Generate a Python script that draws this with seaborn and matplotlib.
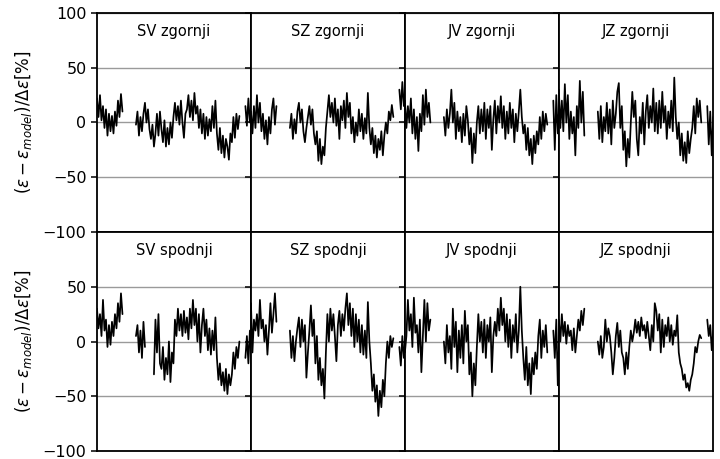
import numpy as np
import pandas as pd
import matplotlib
matplotlib.use("Agg")
import matplotlib.pyplot as plt
import seaborn as sns

# Each panel is three measured stretches (a, b, c) on a common time index.
# None marks a missing stretch inside a run.
SEG_START = [0, 26, 99]
T_END = 102.7

names_top = ["SV zgornji", "SZ zgornji", "JV zgornji", "JZ zgornji"]
names_bottom = ["SV spodnji", "SZ spodnji", "JV spodnji", "JZ spodnji"]

# --- upper sensors ---
sv_zg_a = [22, 5, 25, 2, 15, -5, 12, -12, 8, -8, 6, -10, 10, -3, 20, 5, 26, 10]
sv_zg_b = [-2, 10, -12, 5, -8, 8, 18, 0, 12, -6, -15, -2, -22, -10, 8, -12, 10, -6,
           -18, 2, -22, -5, -20, 0, -14, 5, 18, 2, 15, -2, 20, 0, -14, 8,
           12, 25, 5, 20, 2, 27, 8, 15, -5, 12, -10, 8, -15, 5, -12, 3,
           -8, 15, -5, 20, -10, -25, -5, -28, -12, -32, -15, -22, -34, -10,
           -18, 5, -14, 8, -6, 6]
sv_zg_c = [15, -3, 22, 0, 10]

sz_zg_a = [10, -10, 15, -5, 25, 0, 18, -8, 8, -15, 2, -20, 5, -10, 12, 22, -2, 15]
sz_zg_b = [-5, 8, -15, 3, -10, 10, 18, 0, 12, -8, -18, -5, 5, 15, -2, 12, -10,
           -20, -8, -35, -15, -38, -22, -30, -5, 10, 25, 5, 18, 0, 22, -3, 12,
           -15, 15, 2, 20, -5, 27, 5, 18, -10, 5, -18, 0, -12, 12, -8, 8, -15, 4, -10,
           27, -5, -20, -5, -28, -12, -32, -15, -25, -8, -30, -12, 0, -10, 10, 2, 16, 5]
sz_zg_c = [30, 12, 37, 15, 25]

jv_zg_a = [20, -5, 15, 0, 22, -10, 12, -15, 5, -26, 8, -8, 25, -2, 30, 5, 18, 0]
jv_zg_b = [5, -12, 12, -5, 8, 30, 0, 18, -15, 10, -8, 5, -18, 8, -12, 15, 2,
           -20, -5, -37, -10, -28, 0, 15, -10, 12, -8, 18, -15, 12, -5, 15, -25, 3,
           20, -10, 15, 0, 24, -5, 15, -15, 10, -10, 18, -5, 12, -18, 8, -8,
           10, 30, 5, -10, -2, -25, -5, -30, -15, -38, -12, -28, -8, -20,
           5, -15, 10, -8, 8, -2]
jv_zg_c = [20, -25, 25, -10, 15]

jz_zg_a = [30, -5, 20, -8, 35, 0, 25, -15, 10, -10, 5, -30, 15, -5, 38, 0, 28, -12]
jz_zg_b = [10, -15, 15, -18, 5, -8, 18, -10, 12, -20, 20, -5, 8, 28, 36, -5, 15,
           -25, -8, -40, -15, -32, 0, 28, 5, 20, -15, -30, 5, -10, 18, -20, 10,
           25, -5, 15, 0, 31, -8, 18, -10, 20, -5, 28, 0, 15, -15, 10, -5,
           20, -8, 41, 5, -15, 0, -30, -10, -35, -18, -37, -8, -28, -15, -5,
           15, -10, 22, 5, 20, 0]
jz_zg_c = [15, -20, 10, -30, 5]

# --- lower sensors ---
sv_sp_a = [30, 12, 25, 5, 38, 10, 20, -5, 15, -3, 18, 5, 25, 12, 35, 18, 44, 25]
sv_sp_b = [5, 15, -10, 10, -15, 18, -5, None, None, None, None, None,
           -30, 20, -10, 25, -20, -25, -5, -35, -15, -30, 0, -37, -10, -20,
           20, 5, 30, 10, 25, 5, 28, 8, 22, 2, 30, 12, 38, 15, 30, 0, 25, -10, 15,
           30, 5, 20, -8, 12, -12, 10, -8, 22,
           -15, -35, -20, -40, -28, -45, -25, -48, -30, -40,
           -30, -10, -25, -5, -15, 0]
sv_sp_c = [-15, 5, -20, 10, -5]

sz_sp_a = [35, -10, 20, 10, 25, 5, 38, 12, 20, 0, 15, -12, 10, 35, 8, 25, 44, 18]
sz_sp_b = [10, -15, 5, -18, 0, 12, 22, -5, 20, 0, 15, -33, -10, 10, 33, 5, 20,
           -20, 5, -35, -15, -40, -25, -52, -10, 25, 0, 30, 10, 25, 5, -18, 15,
           28, 5, 25, 10, 30, 44, 15, 35, 5, 30, -5, 25, 0, 20, -10, 15, -12, 10, -15,
           36, 0, -20, -45, -30, -55, -40, -68, -45, -60, -35, -50,
           -20, 0, -15, 5, -5, 3]
sz_sp_c = [-5, -22, 5, -15, 0]

jv_sp_a = [-10, 5, 38, 10, 25, -5, 40, 8, 15, -10, 20, -28, 5, 38, 0, 35, 10, 20]
jv_sp_b = [0, -20, 15, -10, 5, -25, 30, -5, 18, -28, 10, -15, 15, -20, 28, 0, 15,
           -30, -10, -50, -20, -40, -5, 25, 0, 18, -10, 20, -15, 15, 0, 22, -28, 5, 18,
           5, 30, 10, 40, 15, 30, 0, 25, -5, 20, -15, 15, 0, 25, -10, 10, 50, 10,
           -15, -35, -5, -40, -20, -48, -15, -30, -10, -25, 5,
           20, -15, 10, -5, 15, -10]
jv_sp_c = [10, -15, 20, -40, 5]

jz_sp_a = [20, 0, 25, 5, 18, -2, 15, 5, 10, -8, 12, -10, 5, 20, 10, 28, 15, 30]
jz_sp_b = [0, -12, 5, -15, -5, 20, 0, 12, 5, -10, -30, -15, 5, 17, -5, 10, -10,
           -15, -30, -10, -25, -5, 10, 0, 8, 20, 8, 18, 5, 22, 10, 15, 3, 18, 5,
           -8, 15, 0, 35, 28, 10, 25, -10, 20, -5, 15, 5, 22, 0, 15, -3, 10, 5, 24,
           -10, -20, -25, -35, -30, -42, -38, -45, -35, -30,
           -20, -5, -10, 0, 6, 3]
jz_sp_c = [20, 5, 15, -8, 10]

panels = [
    (names_top[0], [sv_zg_a, sv_zg_b, sv_zg_c]),
    (names_top[1], [sz_zg_a, sz_zg_b, sz_zg_c]),
    (names_top[2], [jv_zg_a, jv_zg_b, jv_zg_c]),
    (names_top[3], [jz_zg_a, jz_zg_b, jz_zg_c]),
    (names_bottom[0], [sv_sp_a, sv_sp_b, sv_sp_c]),
    (names_bottom[1], [sz_sp_a, sz_sp_b, sz_sp_c]),
    (names_bottom[2], [jv_sp_a, jv_sp_b, jv_sp_c]),
    (names_bottom[3], [jz_sp_a, jz_sp_b, jz_sp_c]),
]


def panel_frame(segments):
    """Long-form table, one 'seg' id per unbroken stretch."""
    rows = []
    seg_id = 0
    for start, vals in zip(SEG_START, segments):
        for k, v in enumerate(vals):
            if v is None:
                seg_id += 1
                continue
            rows.append((start + k, v, seg_id))
        seg_id += 1
    return pd.DataFrame(rows, columns=["t", "dev", "seg"])


sns.set_style("ticks")
plt.rcParams["font.family"] = ["DejaVu Sans"]
plt.rcParams["axes.linewidth"] = 1.3
plt.rcParams["text.color"] = "black"
plt.rcParams["axes.labelcolor"] = "black"
plt.rcParams["ytick.color"] = "black"

fig, axes = plt.subplots(2, 4, figsize=(7.2, 4.59), dpi=100)
fig.subplots_adjust(left=0.1347, right=0.990, top=0.9717, bottom=0.0174,
                    wspace=0, hspace=0)

ylabel = r"$(\varepsilon - \varepsilon_{model})/\Delta\varepsilon[\%]$"

for idx, (ax, (name, segs)) in enumerate(zip(axes.flat, panels)):
    row, col = divmod(idx, 4)
    df = panel_frame(segs)
    sns.lineplot(data=df, x="t", y="dev", units="seg", estimator=None,
                 color="black", lw=1.25, ax=ax, legend=False)
    ax.set_xlim(0, T_END)
    ax.set_ylim(-100, 100)
    if row == 0:
        ax.set_yticks([-100, -50, 0, 50, 100])
    else:
        ax.set_yticks([-100, -50, 0, 50])
    ax.yaxis.grid(True, color="#9a9a9a", lw=1.0)
    ax.set_axisbelow(True)
    ax.set_xticks([])
    ax.set_xlabel("")
    ax.tick_params(axis="y", labelsize=11.5, length=4, width=1.1, color="black")
    for sp in ax.spines.values():
        sp.set_visible(True)
        sp.set_color("black")
    if col == 0:
        ax.set_ylabel(ylabel, fontsize=12, labelpad=6)
    else:
        ax.set_ylabel("")
        ax.tick_params(axis="y", labelleft=False)
    ax.text(T_END / 2, 83, name, ha="center", va="center", fontsize=10.5,
            color="black")

fig.savefig("out.png", dpi=100)
